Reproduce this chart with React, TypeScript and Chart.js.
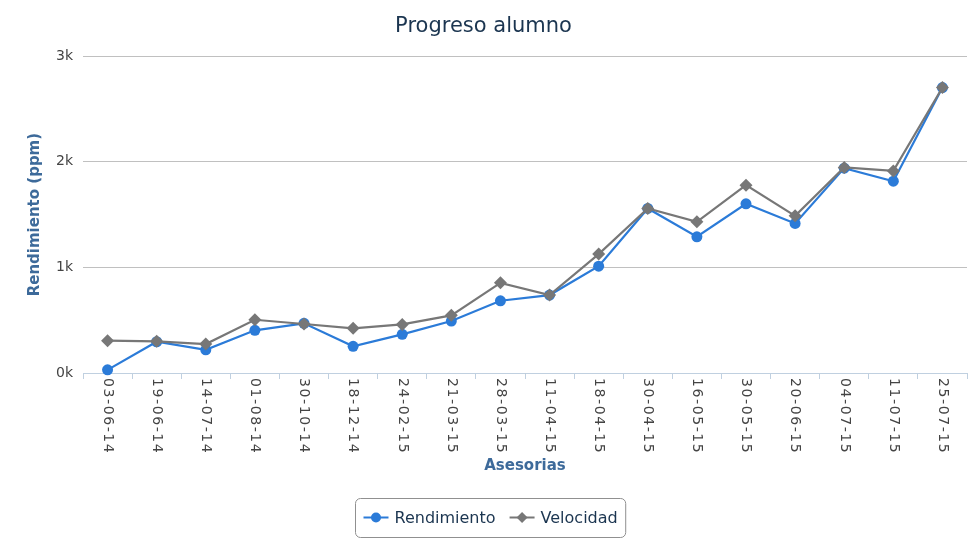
import React, { useEffect, useRef } from "react";
import { Chart, registerables } from "chart.js";

Chart.register(...registerables);

const categories = [
  "03-06-14", "19-06-14", "14-07-14", "01-08-14", "30-10-14", "18-12-14",
  "24-02-15", "21-03-15", "28-03-15", "11-04-15", "18-04-15", "30-04-15",
  "16-05-15", "30-05-15", "20-06-15", "04-07-15", "11-07-15", "25-07-15",
];
const rendimiento = [30, 296, 220, 404, 470, 253, 366, 492, 684, 738, 1012, 1558, 1290, 1602, 1416, 1940, 1816, 2703];
const velocidad = [306, 300, 274, 504, 464, 423, 460, 546, 854, 738, 1126, 1558, 1432, 1779, 1488, 1946, 1914, 2703];
const yTickValues = [0, 1000, 2000, 3000];
const yTickLabels = ["0k", "1k", "2k", "3k"];

const seriesNames = ["Rendimiento", "Velocidad"];
const seriesColors = ["#2b7bd8", "#777777"];
const seriesMarkers = ["circle", "rectRot"];

const FONT = '"DejaVu Sans", sans-serif';

const xLabelPlugin = {
  id: "xRotatedLabels",
  afterDraw(chart: any) {
    const sc = chart.scales.x;
    const ctx = chart.ctx;
    ctx.save();
    ctx.font = `14px ${FONT}`;
    ctx.fillStyle = "#444444";
    ctx.textAlign = "left";
    ctx.textBaseline = "middle";
    try { (ctx as any).letterSpacing = "1.6px"; } catch (e) {}
    sc.ticks.forEach((t: any, i: number) => {
      const x = sc.getPixelForTick(i);
      ctx.save();
      ctx.translate(x, sc.top + 5);
      ctx.rotate(Math.PI / 2);
      ctx.fillText(String(sc.getLabelForValue(t.value)), 0, 0);
      ctx.restore();
    });
    ctx.restore();
  },
};

const legendPlugin = {
  id: "boxLegend",
  afterDraw(chart: any) {
    const ctx = chart.ctx;
    const ds = chart.data.datasets;
    ctx.save();
    ctx.font = `16px ${FONT}`;
    const sym = 25, gapText = 6, gapItem = 14, padX = 8;
    const widths = ds.map((d: any) => ctx.measureText(d.label).width);
    let total = padX * 2 + gapItem * (ds.length - 1);
    widths.forEach((w: number) => (total += sym + gapText + w));
    const cx = chart.width / 2;
    const left = Math.round(cx - total / 2) + 0.5;
    const top = 498.5, h = 39;
    const cy = top + h / 2 - 0.5;
    const r = 5;
    ctx.beginPath();
    ctx.moveTo(left + r, top);
    ctx.lineTo(left + total - r, top);
    ctx.arcTo(left + total, top, left + total, top + r, r);
    ctx.lineTo(left + total, top + h - r);
    ctx.arcTo(left + total, top + h, left + total - r, top + h, r);
    ctx.lineTo(left + r, top + h);
    ctx.arcTo(left, top + h, left, top + h - r, r);
    ctx.lineTo(left, top + r);
    ctx.arcTo(left, top, left + r, top, r);
    ctx.closePath();
    ctx.fillStyle = "#ffffff";
    ctx.fill();
    ctx.strokeStyle = "#909090";
    ctx.lineWidth = 1;
    ctx.stroke();
    let x = left + padX;
    ds.forEach((d: any, i: number) => {
      ctx.strokeStyle = d.borderColor;
      ctx.lineWidth = 2;
      ctx.beginPath();
      ctx.moveTo(x, cy);
      ctx.lineTo(x + sym, cy);
      ctx.stroke();
      const mx = x + sym / 2;
      ctx.fillStyle = d.pointBackgroundColor;
      ctx.beginPath();
      if (d.pointStyle === "circle") {
        ctx.arc(mx, cy, 5, 0, Math.PI * 2);
      } else {
        ctx.moveTo(mx, cy - 5.5);
        ctx.lineTo(mx + 5.5, cy);
        ctx.lineTo(mx, cy + 5.5);
        ctx.lineTo(mx - 5.5, cy);
        ctx.closePath();
      }
      ctx.fill();
      ctx.fillStyle = "#1b3550";
      ctx.textAlign = "left";
      ctx.textBaseline = "middle";
      ctx.fillText(d.label, x + sym + gapText, cy + 1);
      x += sym + gapText + widths[i] + gapItem;
    });
    ctx.restore();
  },
};

export default function App() {
  const canvasRef = useRef<HTMLCanvasElement | null>(null);

  useEffect(() => {
    if (!canvasRef.current) return;
    const seriesData = [rendimiento, velocidad];
    const chart = new Chart(canvasRef.current, {
      type: "line",
      data: {
        labels: categories,
        datasets: seriesData.map((vals, i) => ({
          label: seriesNames[i],
          data: vals,
          borderColor: seriesColors[i],
          backgroundColor: seriesColors[i],
          pointBackgroundColor: seriesColors[i],
          pointBorderColor: seriesColors[i],
          pointBorderWidth: 0,
          pointStyle: seriesMarkers[i],
          pointRadius: i === 0 ? 5.5 : 6.5,
          borderWidth: 2.2,
          tension: 0,
          fill: false,
          clip: false,
          order: i === 0 ? 1 : 0,
        })) as any,
      },
      options: {
        responsive: false,
        animation: false,
        layout: { padding: { top: 0, left: 0, right: 13, bottom: 77 } },
        plugins: {
          legend: { display: false },
          tooltip: { enabled: false },
          title: {
            display: true,
            text: "Progreso alumno",
            color: "#1b3550",
            font: { family: FONT, size: 21, weight: "normal" },
            padding: { top: 14, bottom: 17 },
          },
        },
        scales: {
          x: {
            type: "category",
            offset: true,
            grid: {
              drawOnChartArea: false,
              drawTicks: true,
              tickLength: 6,
              color: "#c0d0e0",
              offset: true,
            },
            border: { color: "#c0d0e0", width: 1 },
            ticks: { display: false },
            title: {
              display: true,
              text: "Asesorias",
              color: "#3d6a9a",
              font: { family: FONT, size: 15, weight: "bold" },
              padding: { top: 0, bottom: 8 },
            },
            afterFit: (s: any) => {
              s.height = 110;
            },
          },
          y: {
            min: 0,
            max: 3000,
            afterBuildTicks: (s: any) => {
              s.ticks = yTickValues.map((v) => ({ value: v }));
            },
            ticks: {
              color: "#444444",
              font: { family: FONT, size: 14 },
              padding: 10,
              callback: (v: any) => {
                const k = yTickValues.indexOf(Number(v));
                return k >= 0 ? yTickLabels[k] : "";
              },
            },
            grid: { color: "#c0c0c0", drawTicks: false, lineWidth: 1 },
            border: { display: false },
            title: {
              display: true,
              text: "Rendimiento (ppm)",
              color: "#3d6a9a",
              font: { family: FONT, size: 15, weight: "bold" },
              padding: { top: 26, bottom: 0 },
            },
            afterFit: (s: any) => {
              s.width = 83;
            },
          },
        },
      },
      plugins: [xLabelPlugin, legendPlugin],
    });
    return () => chart.destroy();
  }, []);

  return (
    <div style={{ position: "absolute", left: 0, top: 0, width: 980, height: 560, background: "#ffffff" }}>
      <canvas ref={canvasRef} width={980} height={560} style={{ display: "block" }} />
    </div>
  );
}
